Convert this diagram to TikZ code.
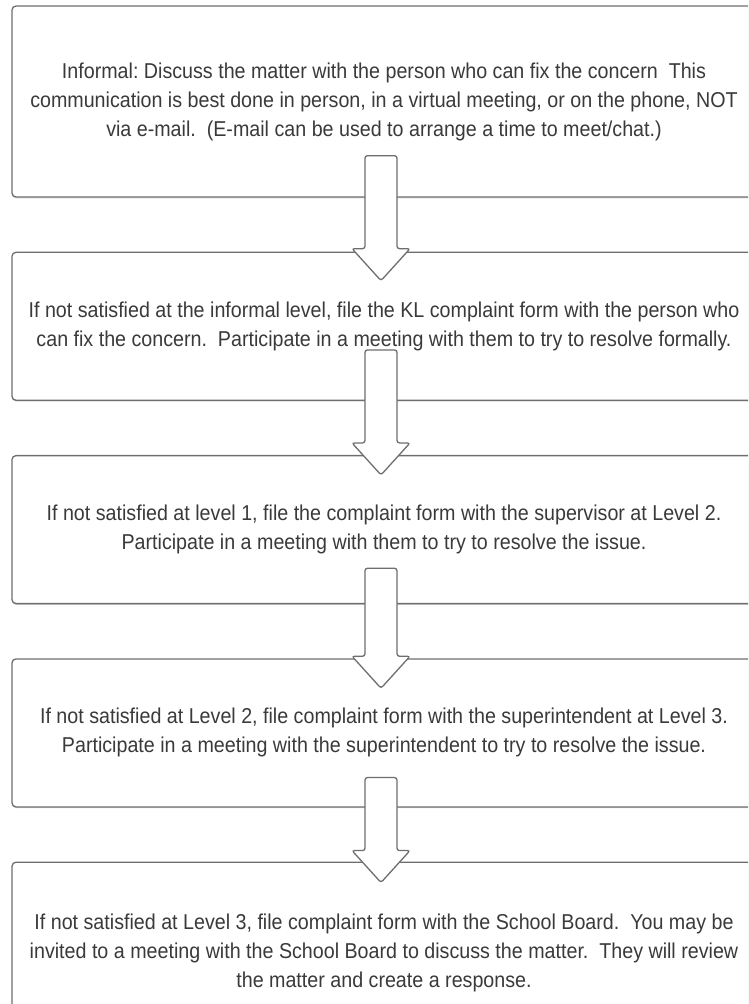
\documentclass[tikz,border=0pt]{standalone}
\usepackage{fontspec}
\setmainfont[FakeStretch=0.915]{Liberation Sans}
\frenchspacing
\usetikzlibrary{positioning, calc, shadows}
\definecolor{grisBorde}{HTML}{6E6E6E}
\definecolor{grisTexto}{HTML}{3A3A3A}
\colorlet{colBorde}{grisBorde}
\colorlet{colTexto}{grisTexto}
\tikzset{
  cajaPaso/.style={
    draw=colBorde, line width=1.3pt, rounded corners=4pt,
    minimum width=744pt, minimum height=148pt, inner sep=0pt,
    align=center, text=colTexto, fill=white,
    font=\fontsize{21.5pt}{29pt}\selectfont,
    drop shadow={shadow xshift=0pt, shadow yshift=-1.3pt, opacity=0.3}
  },
  cajaInicio/.style={cajaPaso, minimum height=191pt},
  cajaFinal/.style={cajaPaso, minimum height=182pt},
  flechaBloque/.style={draw=colBorde, line width=1.3pt, fill=white,
    rounded corners=2.5pt},
}
% flecha gruesa de #1 a #2: #3 = sube dentro de #1, #4 = baja dentro de #2
\newcommand{\flechaGruesa}[4]{%
  \path ($(#1.south)+(-3pt,#3)$) coordinate (fTope)
        ($(#2.north)+(-3pt,-#4)$) coordinate (fPunta);
  \draw[flechaBloque] let \p1=(fTope), \p2=(fPunta) in
    (\x1-16pt,\y1) -- (\x1-16pt,\y2+32pt) -- (\x1-29pt,\y2+32pt) -- (\x2,\y2)
    -- (\x1+29pt,\y2+32pt) -- (\x1+16pt,\y2+32pt) -- (\x1+16pt,\y1) -- cycle;
}

\begin{document}
\begin{tikzpicture}[node distance=54pt]
    \useasboundingbox (0,0) rectangle (748pt,-1004pt);
    \clip (0,0) rectangle (748pt,-1004pt);
    \node[cajaInicio] (informal) at (384pt,-101.5pt)
      {Informal: Discuss the matter with the person who can fix the concern~ This\\
       communication is best done in person, in a virtual meeting, or on the phone, NOT\\
       via e-mail.~ (E-mail can be used to arrange a time to meet/chat.)};
    \node[cajaPaso, below=of informal] (nivel1)
      {If not satisfied at the informal level, file the KL complaint form with the person who\\
       can fix the concern.~ Participate in a meeting with them to try to resolve formally.};
    \node[cajaPaso, below=of nivel1] (nivel2)
      {If not satisfied at level 1, file the complaint form with the supervisor at Level 2.\\
       Participate in a meeting with them to try to resolve the issue.};
    \node[cajaPaso, below=of nivel2] (nivel3)
      {If not satisfied at Level 2, file complaint form with the superintendent at Level 3.\\
       Participate in a meeting with the superintendent to try to resolve the issue.};
    \node[cajaFinal, below=of nivel3] (junta)
      {If not satisfied at Level 3, file complaint form with the School Board.~ You may be\\
       invited to a meeting with the School Board to discuss the matter.~ They will review\\
       the matter and create a response.};
    \flechaGruesa{informal}{nivel1}{42pt}{29pt}
    \flechaGruesa{nivel1}{nivel2}{51pt}{20pt}
    \flechaGruesa{nivel2}{nivel3}{36pt}{30pt}
    \flechaGruesa{nivel3}{junta}{30pt}{21pt}
  \end{tikzpicture}
\end{document}
